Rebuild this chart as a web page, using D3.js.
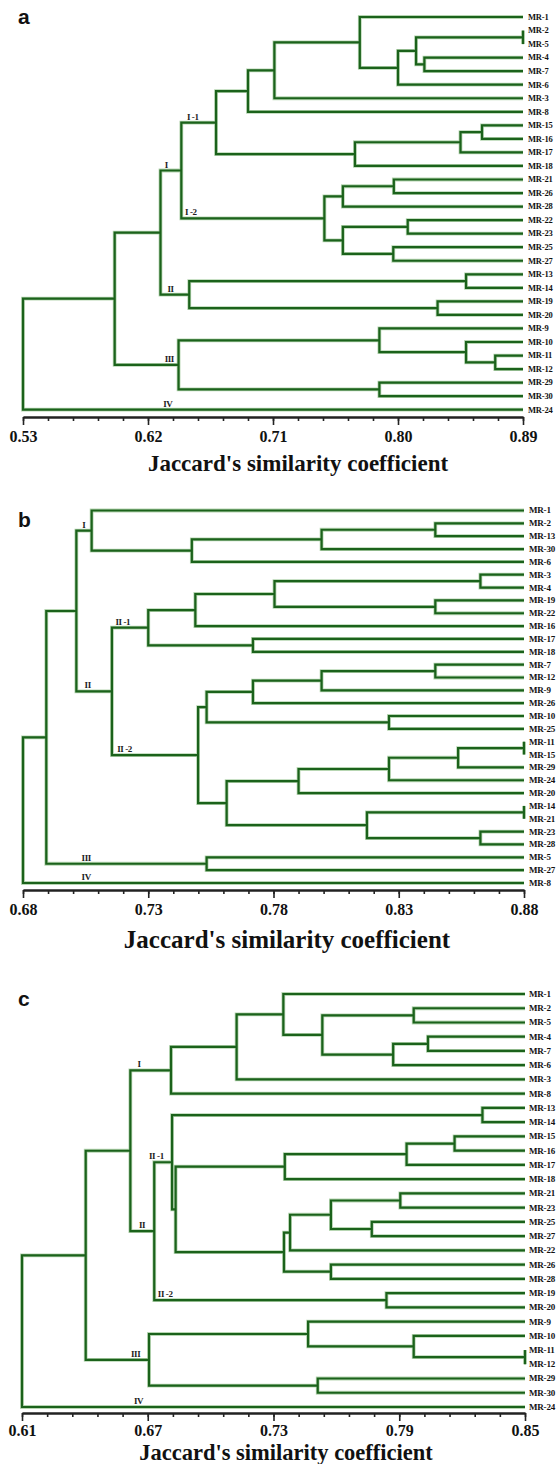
<!DOCTYPE html>
<html>
<head>
<meta charset="utf-8">
<script src="https://cdn.jsdelivr.net/npm/d3@7"></script>
<style>
  body { margin: 0; background: #fff; }
  svg { display: block; }
</style>
</head>
<body>
<script>
// panel a
const leavesA = ["MR-1","MR-2","MR-5","MR-4","MR-7","MR-6","MR-3","MR-8","MR-15","MR-16","MR-17","MR-18",
  "MR-21","MR-26","MR-28","MR-22","MR-23","MR-25","MR-27","MR-13","MR-14","MR-19","MR-20",
  "MR-9","MR-10","MR-11","MR-12","MR-29","MR-30","MR-24"];
// [node, child, child, similarity]
const mergesA = [
  ["n1","MR-2","MR-5",0.89], ["n2","MR-4","MR-7",0.819], ["n3","n1","n2",0.813],
  ["n4","n3","MR-6",0.800], ["n5","MR-1","n4",0.7725], ["n6","n5","MR-3",0.711],
  ["n7","n6","MR-8",0.692], ["n8","MR-15","MR-16",0.8605], ["n9","n8","MR-17",0.845],
  ["n10","n9","MR-18",0.769], ["I-1","n7","n10",0.669],
  ["n11","MR-21","MR-26",0.797], ["n12","n11","MR-28",0.7603], ["n13","MR-22","MR-23",0.807],
  ["n14","MR-25","MR-27",0.7966], ["n15","n13","n14",0.7603], ["I-2","n12","n15",0.747],
  ["I","I-1","I-2",0.644], ["n16","MR-13","MR-14",0.849], ["n17","MR-19","MR-20",0.8285],
  ["II","n16","n17",0.6497], ["n18","I","II",0.629],
  ["n19","MR-11","MR-12",0.870], ["n20","MR-10","n19",0.849], ["n21","MR-9","n20",0.7866],
  ["n22","MR-29","MR-30",0.7866], ["III","n21","n22",0.642], ["n23","n18","III",0.596],
  ["root","n23","MR-24",0.53]
];
const labelsA = [["I","I",0.632],["I -1","I-1",0.648],["I -2","I-2",0.6466],["II","II",0.634],["III","III",0.632],["IV","MR-24",0.631]];
const ticksA = [0.53, 0.62, 0.71, 0.80, 0.89];

// panel b
const leavesB = ["MR-1","MR-2","MR-13","MR-30","MR-6","MR-3","MR-4","MR-19","MR-22","MR-16","MR-17","MR-18",
  "MR-7","MR-12","MR-9","MR-26","MR-10","MR-25","MR-11","MR-15","MR-29","MR-24","MR-20",
  "MR-14","MR-21","MR-23","MR-28","MR-5","MR-27","MR-8"];
const mergesB = [
  ["n1","MR-2","MR-13",0.8446], ["n2","n1","MR-30",0.7992], ["n3","n2","MR-6",0.7474],
  ["I","MR-1","n3",0.7074],
  ["n4","MR-3","MR-4",0.8626], ["n5","MR-19","MR-22",0.8446], ["n6","n4","n5",0.7804],
  ["n7","n6","MR-16",0.7488], ["n8","MR-17","MR-18",0.7718], ["II-1","n7","n8",0.730],
  ["n9","MR-7","MR-12",0.8446], ["n10","n9","MR-9",0.7992], ["n11","n10","MR-26",0.7718],
  ["n12","MR-10","MR-25",0.8261], ["n13","n11","n12",0.7533],
  ["n14","MR-11","MR-15",0.88], ["n15","n14","MR-29",0.8537], ["n16","n15","MR-24",0.8261],
  ["n17","n16","MR-20",0.790], ["n18","MR-14","MR-21",0.88], ["n19","MR-23","MR-28",0.8626],
  ["n20","n18","n19",0.8173], ["n21","n17","n20",0.7613], ["II-2","n13","n21",0.7499],
  ["II","II-1","II-2",0.7155], ["n22","I","II",0.7013], ["III","MR-5","MR-27",0.7533],
  ["n23","n22","III",0.6893], ["root","n23","MR-8",0.68]
];
const labelsB = [["I","I",0.7037],["II -1","II-1",0.7169],["II","II",0.7046],["II -2","II-2",0.7176],["III","III",0.7034],["IV","MR-8",0.7034]];
const ticksB = [0.68, 0.73, 0.78, 0.83, 0.88];

// panel c
const leavesC = ["MR-1","MR-2","MR-5","MR-4","MR-7","MR-6","MR-3","MR-8","MR-13","MR-14","MR-15","MR-16",
  "MR-17","MR-18","MR-21","MR-23","MR-25","MR-27","MR-22","MR-26","MR-28","MR-19","MR-20",
  "MR-9","MR-10","MR-11","MR-12","MR-29","MR-30","MR-24"];
const mergesC = [
  ["n1","MR-2","MR-5",0.7969], ["n2","MR-4","MR-7",0.8037], ["n3","n2","MR-6",0.7871],
  ["n4","n1","n3",0.7533], ["n5","MR-1","n4",0.7347], ["n6","n5","MR-3",0.7124],
  ["I","n6","MR-8",0.6811],
  ["n7","MR-13","MR-14",0.8297], ["n8","MR-15","MR-16",0.8164], ["n9","n8","MR-17",0.7935],
  ["n10","n9","MR-18",0.7354], ["n11","MR-21","MR-23",0.7905], ["n12","MR-25","MR-27",0.7769],
  ["n13","n11","n12",0.7574], ["n14","n13","MR-22",0.7379], ["n15","MR-26","MR-28",0.7574],
  ["n16","n14","n15",0.735], ["n17","n10","n16",0.6833], ["II-1","n7","n17",0.6816],
  ["II-2","MR-19","MR-20",0.7839], ["II","II-1","II-2",0.6731], ["n18","I","II",0.6617],
  ["n19","MR-11","MR-12",0.85], ["n20","MR-10","n19",0.7969], ["n21","MR-9","n20",0.7465],
  ["n22","MR-29","MR-30",0.7511], ["III","n21","n22",0.6706], ["n23","n18","III",0.6404],
  ["root","n23","MR-24",0.61]
];
const labelsC = [["I","I",0.6651],["II -1","II-1",0.6706],["II","II",0.6658],["II -2","II-2",0.6748],["III","III",0.662],["IV","MR-24",0.6634]];
const ticksC = [0.61, 0.67, 0.73, 0.79, 0.85];

const w = 557, h = 1464;
const green = "#1b621b", serif = "'Liberation Serif', 'Times New Roman', serif";

const svg = d3.select("body")
  .append("svg")
  .attr("width", w)
  .attr("height", h);

const drawPanel = (p) => {
  const g = svg.append("g");
  const lo = p.ticks[0], hi = p.ticks[p.ticks.length - 1];
  const x = d3.scaleLinear().domain([lo, hi]).range([p.x0, p.x1]);
  const y = d3.scalePoint().domain(p.leaves).range([p.top, p.bottom]);

  const pos = {};
  p.leaves.forEach(l => pos[l] = { x: x(hi), y: y(l) });
  const nodes = p.merges.map(([id, a, b, v]) => {
    pos[id] = { x: x(v), y: (pos[a].y + pos[b].y) / 2 };
    return { id, a: pos[a], b: pos[b], x: x(v) };
  });

  const linkPath = d => `M${d.a.x},${d.a.y}H${d.x}V${d.b.y}H${d.b.x}`;
  // soft halo like the scanned figure, then the branch itself
  g.selectAll("path.halo")
    .data(nodes)
    .join("path")
    .attr("class", "halo")
    .attr("d", linkPath)
    .attr("fill", "none")
    .attr("stroke", "#b7d6b2")
    .attr("stroke-width", 3.8);
  g.selectAll("path.link")
    .data(nodes)
    .join("path")
    .attr("class", "link")
    .attr("d", linkPath)
    .attr("fill", "none")
    .attr("stroke", green)
    .attr("stroke-width", 2.2);

  g.selectAll("text.leaf")
    .data(p.leaves)
    .join("text")
    .attr("class", "leaf")
    .attr("x", p.leafX)
    .attr("y", d => y(d))
    .attr("dy", "0.33em")
    .attr("font-family", serif)
    .attr("font-weight", "bold")
    .attr("font-size", p.leafSize)
    .attr("letter-spacing", "-0.2px")
    .attr("fill", "#111")
    .text(d => d);

  g.selectAll("text.clu")
    .data(p.labels)
    .join("text")
    .attr("class", "clu")
    .attr("x", d => x(d[2]))
    .attr("y", d => pos[d[1]].y - 3)
    .attr("font-family", serif)
    .attr("font-weight", "bold")
    .attr("font-size", 9)
    .attr("letter-spacing", "-0.4px")
    .attr("fill", "#222")
    .text(d => d[0]);

  // axis: minor ticks, then major ticks with labels
  const minor = d3.range(21).map(i => lo + i * (hi - lo) / 20);
  g.append("g")
    .attr("transform", `translate(0, ${p.axisY})`)
    .call(d3.axisBottom(x).tickValues(minor).tickSize(4).tickSizeOuter(0).tickFormat(""));
  const major = g.append("g")
    .attr("transform", `translate(0, ${p.axisY})`)
    .call(d3.axisBottom(x).tickValues(p.ticks).tickSize(8).tickSizeOuter(0).tickPadding(p.tickPad).tickFormat(d3.format(".2f")));
  g.selectAll(".domain").attr("stroke", "#222").attr("stroke-width", 2);
  g.selectAll(".tick line").attr("stroke", "#222").attr("stroke-width", 1.6);
  major.selectAll("text")
    .attr("font-family", serif)
    .attr("font-weight", "bold")
    .attr("font-size", 16)
    .attr("fill", "#111");

  g.append("text")
    .attr("x", p.titleX)
    .attr("y", p.titleY)
    .attr("text-anchor", "middle")
    .attr("font-family", serif)
    .attr("font-weight", "bold")
    .attr("font-size", p.titleSize)
    .attr("fill", "#111")
    .text("Jaccard's similarity coefficient");

  g.append("text")
    .attr("x", 18)
    .attr("y", p.letterY)
    .attr("font-family", "'Liberation Sans', Arial, sans-serif")
    .attr("font-weight", "bold")
    .attr("font-size", 21)
    .attr("fill", "#111")
    .text(p.letter);
}

drawPanel({ letter: "a", letterY: 24, leaves: leavesA, merges: mergesA, labels: labelsA, ticks: ticksA,
  x0: 23, x1: 523, top: 17, bottom: 409.7, axisY: 417, leafX: 528, leafSize: 8.5, tickPad: 6,
  titleX: 298, titleY: 471, titleSize: 23 });
drawPanel({ letter: "b", letterY: 527, leaves: leavesB, merges: mergesB, labels: labelsB, ticks: ticksB,
  x0: 23, x1: 524, top: 510.5, bottom: 883, axisY: 890, leafX: 529, leafSize: 9, tickPad: 6,
  titleX: 287, titleY: 948, titleSize: 25 });
drawPanel({ letter: "c", letterY: 1006, leaves: leavesC, merges: mergesC, labels: labelsC, ticks: ticksC,
  x0: 22, x1: 525, top: 994, bottom: 1407, axisY: 1413, leafX: 529, leafSize: 9, tickPad: 4,
  titleX: 286, titleY: 1460, titleSize: 22.5 });
</script>
</body>
</html>
